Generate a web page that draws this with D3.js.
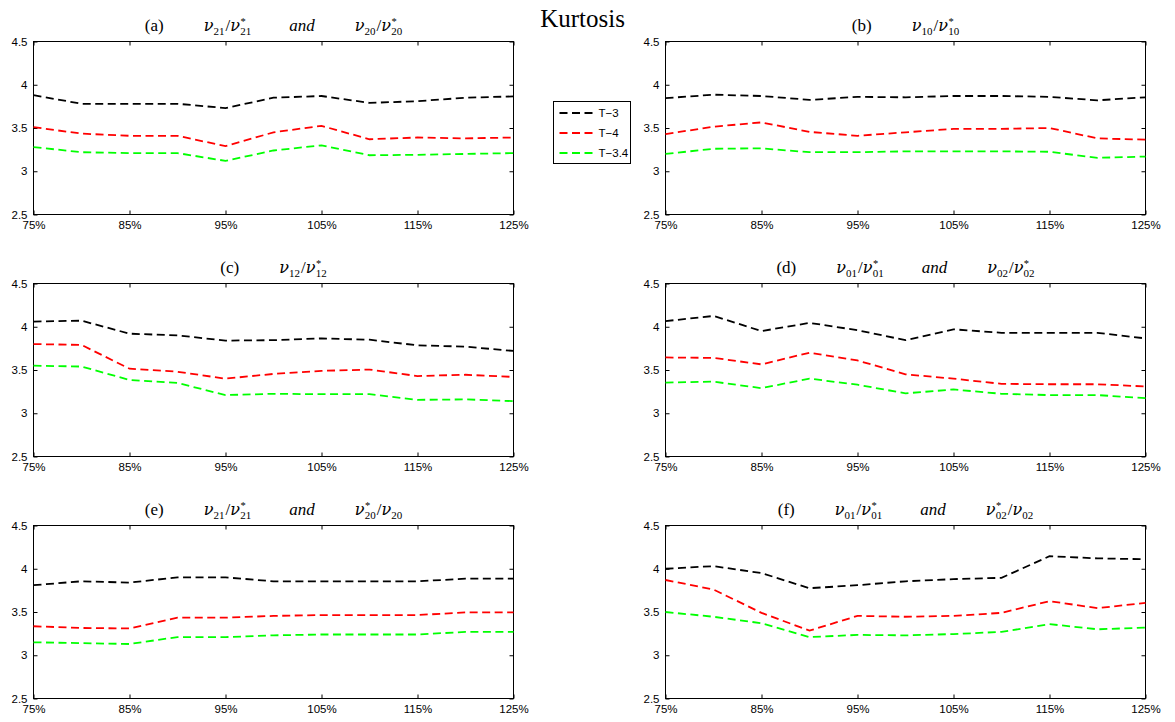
<!DOCTYPE html>
<html>
<head>
<meta charset="utf-8">
<script src="https://cdn.jsdelivr.net/npm/d3@7"></script>
<style>
  body { margin: 0; background: #fff; }
</style>
</head>
<body>
<script>
// x positions (percent) and axis ticks
const pct = [75, 80, 85, 90, 95, 100, 105, 110, 115, 120, 125];
const xTicks = [75, 85, 95, 105, 115, 125];
const yTicks = [2.5, 3, 3.5, 4, 4.5];

const seriesNames = ["T\u22123", "T\u22124", "T\u22123.4"];
const seriesColors = ["#000000", "#ff0000", "#00ff00"];

// (a)
const a_T3  = [3.88, 3.78, 3.78, 3.78, 3.73, 3.85, 3.87, 3.79, 3.81, 3.85, 3.865];
const a_T4  = [3.51, 3.435, 3.41, 3.41, 3.29, 3.45, 3.525, 3.37, 3.39, 3.38, 3.39];
const a_T34 = [3.28, 3.22, 3.21, 3.21, 3.12, 3.24, 3.30, 3.185, 3.19, 3.20, 3.21];
// (b)
const b_T3  = [3.845, 3.885, 3.87, 3.825, 3.86, 3.855, 3.87, 3.87, 3.86, 3.82, 3.855];
const b_T4  = [3.43, 3.515, 3.565, 3.455, 3.41, 3.45, 3.49, 3.49, 3.50, 3.38, 3.365];
const b_T34 = [3.20, 3.26, 3.265, 3.22, 3.22, 3.23, 3.23, 3.23, 3.225, 3.155, 3.17];
// (c)
const c_T3  = [4.06, 4.07, 3.92, 3.90, 3.84, 3.845, 3.865, 3.85, 3.785, 3.77, 3.72];
const c_T4  = [3.80, 3.79, 3.515, 3.48, 3.40, 3.455, 3.49, 3.505, 3.43, 3.445, 3.42];
const c_T34 = [3.55, 3.54, 3.385, 3.35, 3.21, 3.225, 3.22, 3.22, 3.155, 3.16, 3.14];
// (d)
const d_T3  = [4.065, 4.125, 3.95, 4.045, 3.96, 3.845, 3.97, 3.93, 3.93, 3.93, 3.865];
const d_T4  = [3.645, 3.64, 3.565, 3.70, 3.61, 3.45, 3.40, 3.34, 3.335, 3.335, 3.31];
const d_T34 = [3.355, 3.365, 3.29, 3.40, 3.33, 3.23, 3.275, 3.225, 3.21, 3.21, 3.175];
// (e)
const e_T3  = [3.81, 3.855, 3.84, 3.90, 3.90, 3.855, 3.855, 3.855, 3.855, 3.885, 3.885];
const e_T4  = [3.335, 3.315, 3.31, 3.435, 3.435, 3.455, 3.465, 3.465, 3.465, 3.495, 3.495];
const e_T34 = [3.15, 3.14, 3.13, 3.21, 3.21, 3.23, 3.24, 3.24, 3.24, 3.27, 3.27];
// (f)
const f_T3  = [4.0, 4.03, 3.95, 3.775, 3.81, 3.855, 3.88, 3.895, 4.145, 4.12, 4.11];
const f_T4  = [3.87, 3.76, 3.49, 3.285, 3.455, 3.445, 3.455, 3.49, 3.625, 3.545, 3.605];
const f_T34 = [3.50, 3.445, 3.37, 3.21, 3.235, 3.23, 3.245, 3.27, 3.36, 3.30, 3.32];

// panel titles: label + pieces (fractions nu_num / nu_den, star on one side)
const titles = [
  ["(a)", [{ num: "21", den: "21", star: "den" }, "and", { num: "20", den: "20", star: "den" }]],
  ["(b)", [{ num: "10", den: "10", star: "den" }]],
  ["(c)", [{ num: "12", den: "12", star: "den" }]],
  ["(d)", [{ num: "01", den: "01", star: "den" }, "and", { num: "02", den: "02", star: "den" }]],
  ["(e)", [{ num: "21", den: "21", star: "den" }, "and", { num: "20", den: "20", star: "num" }]],
  ["(f)", [{ num: "01", den: "01", star: "den" }, "and", { num: "02", den: "02", star: "num" }]]
];

const panelData = [
  [a_T3, a_T4, a_T34],
  [b_T3, b_T4, b_T34],
  [c_T3, c_T4, c_T34],
  [d_T3, d_T4, d_T34],
  [e_T3, e_T4, e_T34],
  [f_T3, f_T4, f_T34]
];

// layout
const colX = [33.5, 665.5], rowY = [41.5, 283.5, 525.5];
const pw = 480, ph = 173;
const sans = "'Liberation Sans', Arial, Helvetica, sans-serif";
const serif = "'Liberation Serif', 'Times New Roman', serif";
const mathSerif = "'DejaVu Serif', 'Liberation Serif', serif";

const svg = d3.select("body").append("svg")
    .attr("width", 1175)
    .attr("height", 722);

svg.append("text")
    .attr("x", 582.5).attr("y", 26.5)
    .attr("text-anchor", "middle")
    .style("font-family", serif)
    .style("font-size", "25px")
    .text("Kurtosis");

function drawTitle(sel, cx, cy, label, parts) {
  const t = sel.append("text")
      .attr("x", cx).attr("y", cy)
      .attr("text-anchor", "middle")
      .style("font-family", serif)
      .style("font-size", "17px");
  let cur = 0;
  const add = (str, off, size, italic, dx, fam) => {
    t.append("tspan")
        .attr("dx", dx || 0)
        .attr("dy", off - cur)
        .style("font-size", size + "px")
        .style("font-style", italic ? "italic" : "normal")
        .style("font-family", fam || serif)
        .text(str);
    cur = off;
  };
  const nu = (sub, star, gap) => {
    add("\u03bd", 0, 16, true, gap, mathSerif);
    if (star) {
      add("*", -6, 10.5, false, 0.5);
      add(sub, 4, 11, false, -5.5);
    } else {
      add(sub, 4, 11, false, 0);
    }
  };
  add(label, 0, 17, false, 0);
  parts.forEach(p => {
    if (typeof p === "string") {
      add(p, 0, 17, true, 38);
    } else {
      nu(p.num, p.star === "num", 40);
      add("/", 0, 17, false, 1);
      nu(p.den, p.star === "den", 0);
    }
  });
}

panelData.forEach((series, i) => {
  const px = colX[i % 2], py = rowY[Math.floor(i / 2)];
  const g = svg.append("g").attr("transform", `translate(${px},${py})`);

  const x = d3.scaleLinear().domain([75, 125]).range([0, pw]);
  const y = d3.scaleLinear().domain([2.5, 4.5]).range([ph, 0]);

  g.append("rect")
      .attr("width", pw).attr("height", ph)
      .attr("fill", "none").attr("stroke", "#000").attr("stroke-width", 1);

  // ticks pointing inward, labels on left and bottom only
  g.append("g")
      .call(d3.axisLeft(y).tickValues(yTicks).tickFormat(d3.format("")).tickSizeInner(-4).tickSizeOuter(0).tickPadding(6));
  g.append("g").attr("transform", `translate(0,${ph})`)
      .call(d3.axisBottom(x).tickValues(xTicks).tickFormat(d => d + "%").tickSizeInner(-4).tickSizeOuter(0).tickPadding(6));
  g.append("g").attr("transform", `translate(${pw},0)`)
      .call(d3.axisRight(y).tickValues(yTicks).tickFormat("").tickSizeInner(-4).tickSizeOuter(0));
  g.append("g")
      .call(d3.axisTop(x).tickValues(xTicks).tickFormat("").tickSizeInner(-4).tickSizeOuter(0));

  g.selectAll(".domain").remove();
  g.selectAll(".tick line").attr("stroke", "#000");
  g.selectAll(".tick text")
      .attr("fill", "#000")
      .style("font-family", sans)
      .style("font-size", "11.5px");

  const line = d3.line()
      .x((d, j) => x(pct[j]))
      .y(d => y(d));

  series.forEach((vals, k) => {
    g.append("path")
        .datum(vals)
        .attr("d", line)
        .attr("fill", "none")
        .attr("stroke", seriesColors[k])
        .attr("stroke-width", 1.8)
        .attr("stroke-dasharray", "8,4.5");
  });

  drawTitle(g, pw / 2, -11, titles[i][0], titles[i][1]);
});

// legend
const legend = svg.append("g").attr("transform", "translate(553.5,101.5)");
legend.append("rect")
    .attr("width", 77).attr("height", 62)
    .attr("fill", "#fff").attr("stroke", "#000").attr("stroke-width", 1);

seriesNames.forEach((name, k) => {
  const ly = 11.5 + 20 * k;
  legend.append("line")
      .attr("x1", 6).attr("x2", 41)
      .attr("y1", ly).attr("y2", ly)
      .attr("stroke", seriesColors[k])
      .attr("stroke-width", 1.8)
      .attr("stroke-dasharray", "8,4.5");
  legend.append("text")
      .attr("x", 45).attr("y", ly)
      .attr("dy", "0.35em")
      .style("font-family", sans)
      .style("font-size", "11.5px")
      .text(name);
});
</script>
</body>
</html>
